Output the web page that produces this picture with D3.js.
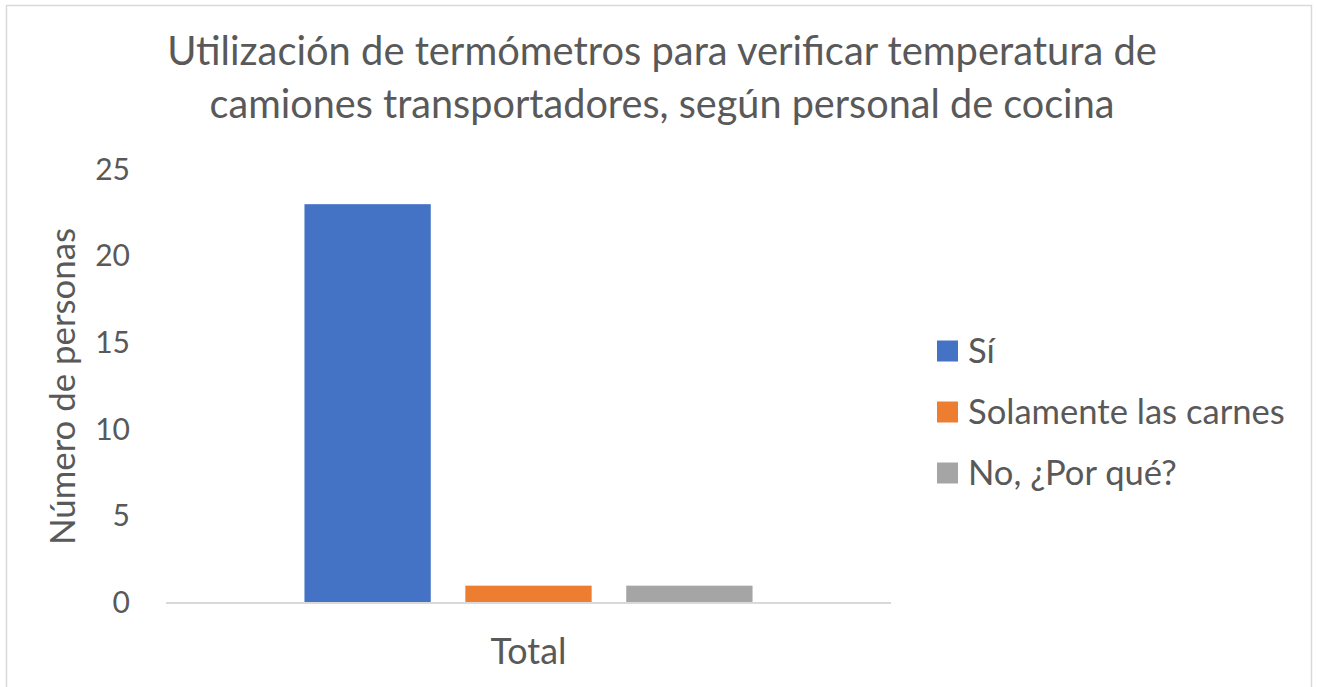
<!DOCTYPE html>
<html>
<head>
<meta charset="utf-8">
<script src="https://cdn.jsdelivr.net/npm/d3@7"></script>
<style>
  html, body { margin: 0; padding: 0; background: #fff; }
  svg { display: block; }
  text { font-family: Lato, "Open Sans", sans-serif; fill: #595959; }
</style>
</head>
<body>
<svg id="chart" width="1317" height="687"></svg>
<script>
// Survey answers: use of thermometers to check delivery truck temperature
const categories = ["Total"];
const seriesNames = ["Sí", "Solamente las carnes", "No, ¿Por qué?"];
const seriesValues = [23, 1, 1];
const seriesColors = ["#4472C4", "#ED7D31", "#A5A5A5"];
const yTicks = [0, 5, 10, 15, 20, 25];
const titleLines = [
  "Utilización de termómetros para verificar temperatura de",
  "camiones transportadores, según personal de cocina"
];
const yAxisTitle = "Número de personas";

const svg = d3.select("#chart");

// Chart frame
svg.append("rect")
  .attr("x", 6.5).attr("y", 5.5)
  .attr("width", 1305).attr("height", 700)
  .attr("fill", "#fff").attr("stroke", "#d9d9d9").attr("stroke-width", 1.5);

const plot = { left: 166, right: 891, top: 169.5, bottom: 603 };

const y = d3.scaleLinear().domain([0, 25]).range([plot.bottom, plot.top]);
const x0 = d3.scaleBand().domain(categories)
  .range([plot.left, plot.right]).paddingInner(0).paddingOuter(0.309);
const x1 = d3.scaleBand().domain(seriesNames)
  .range([0, x0.bandwidth()]).paddingInner(0.215).paddingOuter(0);
const color = d3.scaleOrdinal().domain(seriesNames).range(seriesColors);

// Resize a text element's font so its rendered width equals the given width
function fitWidth(sel, width) {
  sel.each(function () {
    const fs = parseFloat(this.getAttribute("font-size"));
    const w = this.getComputedTextLength();
    this.setAttribute("font-size", (fs * width / w).toFixed(2));
  });
}

// Title
const title = svg.append("g");
titleLines.forEach((line, i) => {
  const t = title.append("text")
    .attr("x", 662).attr("y", 65 + i * 53)
    .attr("text-anchor", "middle")
    .attr("font-size", 40)
    .text(line);
  fitWidth(t, i === 0 ? 990 : 905);
});

// Y axis labels
const yAxis = d3.axisLeft(y).tickValues(yTicks).tickSize(0).tickPadding(0);
const gy = svg.append("g").attr("transform", "translate(130,0)").call(yAxis);
gy.select(".domain").remove();
gy.selectAll("text")
  .attr("font-size", 30)
  .attr("fill", "#595959")
  .style("font-family", "Lato, 'Open Sans', sans-serif");

// Y axis title
const yt = svg.append("text")
  .attr("transform", `translate(75,${(228 + 545) / 2}) rotate(-90)`)
  .attr("text-anchor", "middle")
  .attr("font-size", 28)
  .text(yAxisTitle);
fitWidth(yt, 317);

// Bars
const groups = svg.append("g").selectAll("g")
  .data(categories)
  .join("g")
  .attr("transform", d => `translate(${x0(d)},0)`);

groups.selectAll("rect")
  .data(() => seriesNames.map((s, i) => ({ key: s, value: seriesValues[i] })))
  .join("rect")
  .attr("x", d => x1(d.key))
  .attr("y", d => y(d.value))
  .attr("width", x1.bandwidth())
  .attr("height", d => y(0) - y(d.value))
  .attr("fill", d => color(d.key));

// X axis (baseline and category label)
const xAxis = d3.axisBottom(x0).tickSize(0).tickPadding(0);
const gx = svg.append("g").attr("transform", `translate(0,${plot.bottom})`).call(xAxis);
gx.select(".domain").attr("stroke", "#d9d9d9").attr("stroke-width", 2)
  .attr("d", `M${plot.left},0H${plot.right}`);
gx.selectAll("text")
  .attr("y", 61)
  .attr("dy", 0)
  .attr("font-size", 30)
  .attr("fill", "#595959")
  .style("font-family", "Lato, 'Open Sans', sans-serif");
fitWidth(gx.selectAll("text"), 76);

// Legend
const legend = svg.append("g").attr("transform", "translate(937,0)");
const items = legend.selectAll("g")
  .data(seriesNames)
  .join("g")
  .attr("transform", (d, i) => `translate(0,${351 + i * 61})`);
items.append("rect")
  .attr("x", 0).attr("y", -10.5)
  .attr("width", 21).attr("height", 21)
  .attr("fill", d => color(d));
const labels = items.append("text")
  .attr("x", 31).attr("y", 0)
  .attr("dy", "0.36em")
  .attr("font-size", 30)
  .text(d => d);
// scale all legend labels consistently from the longest one
const ref = labels.filter((d, i) => i === 1);
const refW = ref.node().getComputedTextLength();
const legendFs = 30 * 317 / refW;
labels.attr("font-size", legendFs.toFixed(2));
</script>
</body>
</html>
